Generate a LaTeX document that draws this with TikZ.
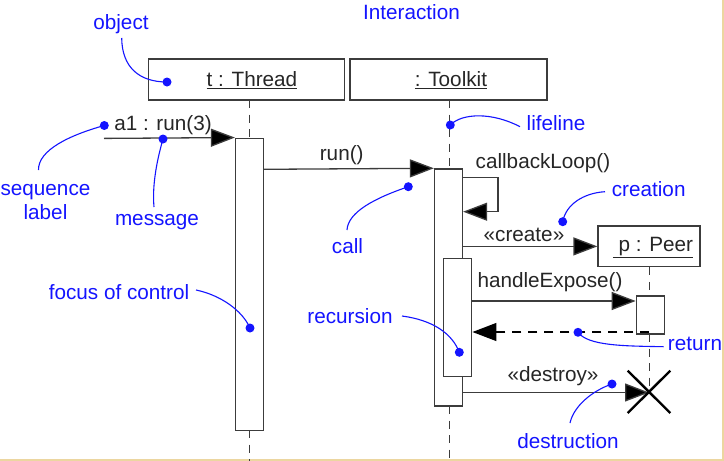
\documentclass[tikz,border=0pt]{standalone}
\usepackage{fontspec}
\setmainfont{Liberation Sans}
\usetikzlibrary{arrows.meta}
\definecolor{ink}{RGB}{60,60,60}
\definecolor{noteblue}{RGB}{20,20,255}
\definecolor{tan}{RGB}{236,214,160}
\tikzset{
  objbox/.style={draw=ink, line width=1.3pt, fill=white, inner sep=0pt},
  actbox/.style={draw=ink, line width=1.3pt, fill=white, inner sep=0pt, minimum width=28pt},
  txt/.style={inner sep=0pt, text=black!85, font=\fontsize{20.7}{24}\selectfont},
  note/.style={inner sep=0pt, text=noteblue, font=\fontsize{20.7}{24}\selectfont, align=center},
  life/.style={draw=ink, line width=1.3pt, dash pattern=on 8pt off 6.5pt},
  msg/.style={draw=ink, line width=1.3pt, -{Triangle[length=24pt,width=18pt,fill=black]}},
  ret/.style={draw=black, line width=1.3pt, dash pattern=on 9pt off 7pt, -{Triangle[length=24pt,width=18pt,fill=black]}},
  callout/.style={draw=noteblue, line width=1.1pt},
  dot/.style={circle, fill=noteblue, inner sep=0pt, minimum size=9pt},
}
\newcommand{\ulbl}[1]{\underline{#1}}
\begin{document}
\begin{tikzpicture}[x=1pt,y=-1pt]
\useasboundingbox (0,0) rectangle (724,461);
\fill[white] (0,0) rectangle (724,461);
\draw[tan, line width=1.2pt] (723,0) -- (723,460) -- (0,460);

% objects
\node[objbox, minimum width=196pt, minimum height=41pt] (thread) at (246.3,79.6) {};
\node[txt] (threadlbl) at (252,80) {\ulbl{t : Thread}};
\node[objbox, minimum width=197pt, minimum height=41pt] (toolkit) at (448.5,79.6) {};
\node[txt] (toolkitlbl) at (451,80) {\ulbl{: Toolkit}};

% lifelines
\coordinate (threadtop) at (249.3,100);
\coordinate (threadbot) at (249.3,461);
\coordinate (tooltop) at (449.3,100);
\coordinate (toolbot) at (449.3,461);
\draw[life] (threadtop) -- (threadtop |- 0,138);
\draw[life] (249.3,430) -- (threadbot);
\draw[life] (tooltop) -- (tooltop |- 0,169);
\draw[life] (449.3,406) -- (toolbot);

% activations
\node[actbox, minimum height=292pt] (threadact) at (249.5,284.2) {};
\node[actbox, minimum height=237pt] (toolact) at (448.5,287.4) {};
\node[actbox, minimum height=118.4pt] (recact) at (457.8,317.5) {};

% peer
\node[objbox, minimum width=102pt, minimum height=40.7pt] (peer) at (649,246.4) {};
\node[txt] (peerlbl) at (653,248) {\ulbl{~p : Peer}};
\draw[life] (peer.south -| 649.3,0) -- (649.3,296);
\node[actbox, minimum height=38pt] (peeract) at (650.3,315) {};
\draw[life] (649.3,334) -- (649.3,392);

% messages
\coordinate (a1start) at (104,138.4);
\draw[msg] (a1start) -- (threadact.north west);
\node[txt] (a1lbl) at (163,125) {a1 : run(3)};

\draw[msg] (threadact.east |- 0,169.3) -- (toolact.north west);
\node[txt] (runlbl) at (341.7,155) {run()};

\coordinate (loopA) at (498,177.7);
\coordinate (loopB) at (498,211.7);
\draw[msg] (toolact.east |- loopA) -- (loopA) -- (loopB) -- (toolact.east |- loopB);
\node[txt] (looplbl) at (543,163) {callbackLoop()};

\draw[msg] (toolact.east |- peer.west) -- (peer.west);
\node[txt] (createlbl) at (524,235) {«create»};

\draw[msg] (recact.east |- 0,301) -- (peeract.west |- 0,301);
\node[txt] (exposelbl) at (550,282) {handleExpose()};

\draw[ret] (649.3,332) -- (recact.east |- 0,332);

\coordinate (xc) at (649,392.5);
\draw[msg] (toolact.east |- xc) -- (xc);
\node[txt] (destroylbl) at (553,376) {«destroy»};
\draw[black, line width=2.4pt] (627.7,370.7) -- (670.3,413);
\draw[black, line width=2.4pt] (670.3,370.7) -- (627.7,413);

% notes
\node[note] (interaction) at (411.5,12) {Interaction};

\node[note] (objnote) at (121,24) {object};
\node[dot] (objdot) at (167,82) {};
\draw[callout] (121.7,38) .. controls (122,68) and (140,82) .. (objdot.center);

\node[note] (seqnote) at (45.5,202) {sequence\\label};
\node[dot] (seqdot) at (104.3,125.5) {};
\draw[callout] (seqdot.center) .. controls (70,135) and (38,150) .. (38.5,170);

\node[note] (msgnote) at (157,222) {message};
\node[dot] (msgdot) at (163,139) {};
\draw[callout] (msgdot.center) .. controls (157,160) and (152,185) .. (154,207);

\node[note] (focnote) at (119,292) {focus of control};
\node[dot] (focdot) at (250,328) {};
\draw[callout] (196,290) .. controls (220,295) and (242,310) .. (focdot.center);

\node[note] (callnote) at (347.5,246) {call};
\node[dot] (calldot) at (408.3,186.7) {};
\draw[callout] (calldot.center) .. controls (375,198) and (348,212) .. (347,230);

\node[note] (lifenote) at (556,123) {lifeline};
\node[dot] (lifedot) at (450.3,125) {};
\draw[callout] (lifedot.center) .. controls (462,113) and (492,112) .. (520,126.7);

\node[note] (creanote) at (648.7,189) {creation};
\node[dot] (creadot) at (562.7,221.7) {};
\draw[callout] (creadot.center) .. controls (566,204) and (584,193) .. (605,191.7);

\node[note] (recnote) at (350,316) {recursion};
\node[dot] (recdot) at (459.3,352.3) {};
\draw[callout] (402,316) .. controls (432,320) and (452,333) .. (recdot.center);

\node[note] (retnote) at (695,344) {return};
\node[dot] (retdot) at (578,332.3) {};
\draw[callout] (retdot.center) .. controls (588,346) and (625,346) .. (663.7,346.7);

\node[note] (desnote) at (568,440.7) {destruction};
\node[dot] (desdot) at (612,384) {};
\draw[callout] (desdot.center) .. controls (594,390) and (574,405) .. (570,423);
\end{tikzpicture}
\end{document}
